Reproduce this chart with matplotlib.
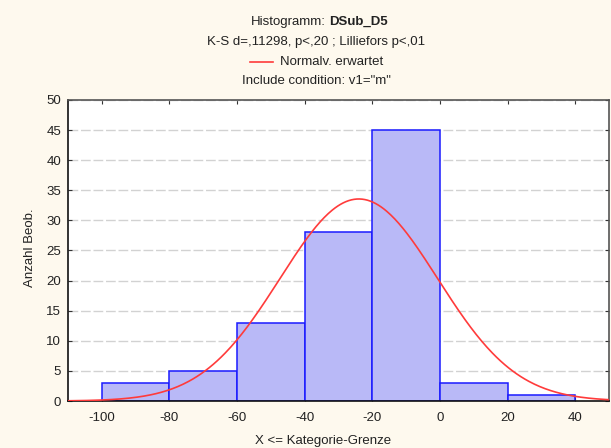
import numpy as np
import matplotlib
matplotlib.use("Agg")
import matplotlib.pyplot as plt

plt.rcParams['font.family'] = ['Liberation Sans', 'DejaVu Sans']
plt.rcParams['axes.unicode_minus'] = False

# Data
bin_edges = [-100, -80, -60, -40, -20, 0, 20, 40]
counts = [3, 5, 13, 28, 45, 3, 1]
x_ticks = [-100, -80, -60, -40, -20, 0, 20, 40]
y_ticks = [0, 5, 10, 15, 20, 25, 30, 35, 40, 45, 50]
# Expected normal parameters
n_obs = sum(counts)
mu = -24.0
sigma = 23.3
bin_width = 20

bg = '#fef9ee'
fig = plt.figure(figsize=(6.11, 4.48), dpi=100, facecolor=bg)
ax = fig.add_axes([68/611, 1-401/448, (609-68)/611, (401-100)/448])
ax.set_facecolor('white')

lefts = bin_edges[:-1]
widths = np.diff(bin_edges)
ax.bar(lefts, counts, width=widths, align='edge', color='#b9b9f7',
       edgecolor='#1a1aff', linewidth=1.1, zorder=2)

xs = np.linspace(-110, 50, 400)
ys = n_obs * bin_width / (sigma * np.sqrt(2*np.pi)) * np.exp(-(xs-mu)**2/(2*sigma**2))
ax.plot(xs, ys, color='#ff3b3b', linewidth=1.2, zorder=3)

ax.set_xlim(-110, 50)
ax.set_ylim(0, 50)
ax.set_xticks(x_ticks)
ax.set_yticks(y_ticks)
ax.tick_params(direction='in', length=3, top=True, right=True, labelsize=9.5,
               colors='#333333', labelcolor='#222222', pad=8)
ax.tick_params(axis='y', pad=5)
ax.yaxis.grid(True, color='#d2d2d2', linestyle=(0, (7, 2)), linewidth=1.0, zorder=1)
ax.set_axisbelow(True)
for s in ['left', 'bottom']:
    ax.spines[s].set_color('#111111')
    ax.spines[s].set_linewidth(1.2)
for s in ['top', 'right']:
    ax.spines[s].set_color('#555555')
    ax.spines[s].set_linewidth(1.2)

fs = 9.5
cx = 316/611
fig.text(326/611, 1-22/448, 'Histogramm:', ha='right', va='center', fontsize=fs, color='#222222')
fig.text(329/611, 1-22/448, 'DSub_D5', ha='left', va='center', fontsize=fs, fontweight='bold', color='#222222')
fig.text(cx, 1-42/448, 'K-S d=,11298, p<,20 ; Lilliefors p<,01', ha='center', va='center', fontsize=fs, color='#222222')
fig.add_artist(plt.Line2D([250/611, 273/611], [1-62/448, 1-62/448], color='#ff3b3b', linewidth=1.2))
fig.text(280/611, 1-62/448, 'Normalv. erwartet', ha='left', va='center', fontsize=fs, color='#222222')
fig.text(cx, 1-81/448, 'Include condition: v1="m"', ha='center', va='center', fontsize=fs, color='#222222')
fig.text(323/611, 1-441/448, 'X <= Kategorie-Grenze', ha='center', va='center', fontsize=fs, color='#222222')
fig.text(30/611, 1-248/448, 'Anzahl Beob.', ha='center', va='center', rotation=90, fontsize=fs, color='#222222')

fig.savefig('out.png', dpi=100, facecolor=bg)
